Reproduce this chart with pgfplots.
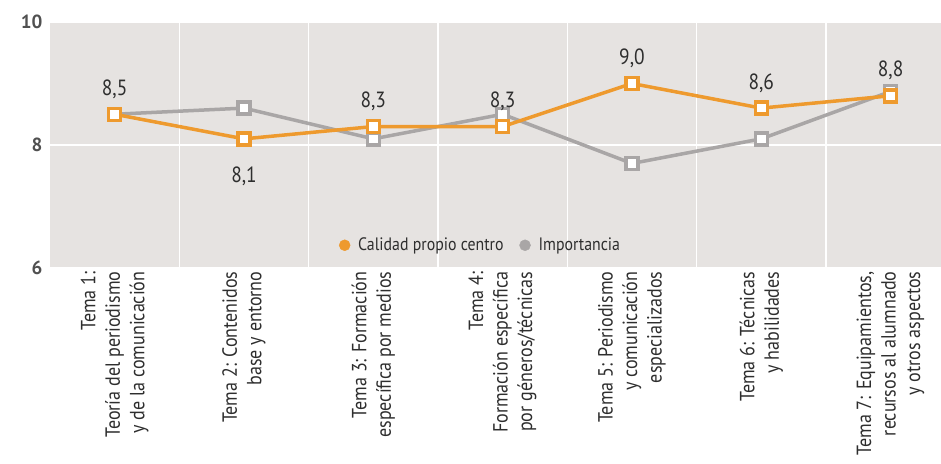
\documentclass[border=0pt]{standalone}
\usepackage{pgfplots}
\pgfplotsset{compat=1.18}
\usepackage{fontspec}
\setmainfont{PT Sans}
\newfontfamily\cond[FakeStretch=0.88]{PT Sans}
\definecolor{bg}{HTML}{E6E3E1}
\definecolor{org}{HTML}{EE9A2E}
\definecolor{gry}{HTML}{A9A6A6}
\definecolor{txt}{HTML}{2E2E2E}
\definecolor{tk}{HTML}{505050}
\begin{document}
\begin{tikzpicture}
\path[use as bounding box] (-50pt,-195pt) rectangle (891pt,268pt);
\begin{axis}[
  at={(0,0)}, anchor=south west,
  scale only axis, width=891pt, height=246pt,
  xmin=-0.5, xmax=6.39, ymin=6, ymax=10,
  axis background/.style={fill=bg},
  axis line style={draw=none},
  major tick length=0pt, minor tick length=0pt,
  /pgf/number format/assume math mode=true,
  xtick={0,...,6},
  xticklabels={
    {Tema 1:\\Teoría del periodismo\\y de la comunicación},
    {Tema 2: Contenidos\\base y entorno},
    {Tema 3: Formación\\específica por medios},
    {Tema 4:\\Formación específica\\por géneros/técnicas},
    {Tema 5: Periodismo\\y comunicación\\especializados},
    {Tema 6: Técnicas\\y habilidades},
    {Tema 7: Equipamientos,\\recursos al alumnado\\y otros aspectos}},
  minor xtick={0.5,1.5,...,5.5},
  xminorgrids=true,
  minor grid style={white, line width=1.5pt},
  ytick={6,8,10},
  ymajorgrids=true,
  major grid style={white, line width=1.5pt},
  yticklabel style={font=\fontsize{19}{19}\selectfont\bfseries, text=tk, xshift=-4pt},
  xticklabel style={rotate=90, anchor=east, align=right, font=\cond\fontsize{20.5}{24.5}\selectfont, text=txt},
  clip=false,
  legend style={at={(axis cs:2.83,6.37)}, anchor=center, draw=none, fill=none,
    legend columns=2, font=\cond\fontsize{18}{18}\selectfont, text=txt,
    /tikz/every even column/.append style={column sep=14pt}},
]
\addplot[forget plot, gry, line width=3.5pt, mark=square*, mark size=6pt,
  mark options={fill=white, draw=gry, line width=3.5pt}]
  coordinates {(0,8.5) (1,8.6) (2,8.1) (3,8.5) (4,7.7) (5,8.1) (6,8.87)};
\addplot[forget plot, org, line width=3.5pt, mark=square*, mark size=6pt,
  mark options={fill=white, draw=org, line width=3.5pt}]
  coordinates {(0,8.5) (1,8.1) (2,8.3) (3,8.3) (4,9.0) (5,8.6) (6,8.8)};
\addplot[forget plot, draw=none, mark=none, nodes near coords, point meta=explicit symbolic,
  every node near coord/.append style={anchor=south, yshift=12pt, font=\cond\fontsize{22}{22}\selectfont, text=txt}]
  table[meta=lab] {
x y lab
0 8.5 8,5
2 8.3 8,3
3 8.3 8,3
4 9.0 9,0
5 8.6 8,6
6 8.8 8,8
};
\addplot[forget plot, draw=none, mark=none, nodes near coords, point meta=explicit symbolic,
  every node near coord/.append style={anchor=north, yshift=-24pt, font=\cond\fontsize{22}{22}\selectfont, text=txt}]
  table[meta=lab] {
x y lab
1 8.1 8,1
};
\addlegendimage{only marks, mark=*, mark size=5.5pt, org}
\addlegendentry{\hspace{6pt}Calidad propio centro}
\addlegendimage{only marks, mark=*, mark size=5.5pt, gry}
\addlegendentry{\hspace{6pt}Importancia}
\end{axis}
\end{tikzpicture}
\end{document}
